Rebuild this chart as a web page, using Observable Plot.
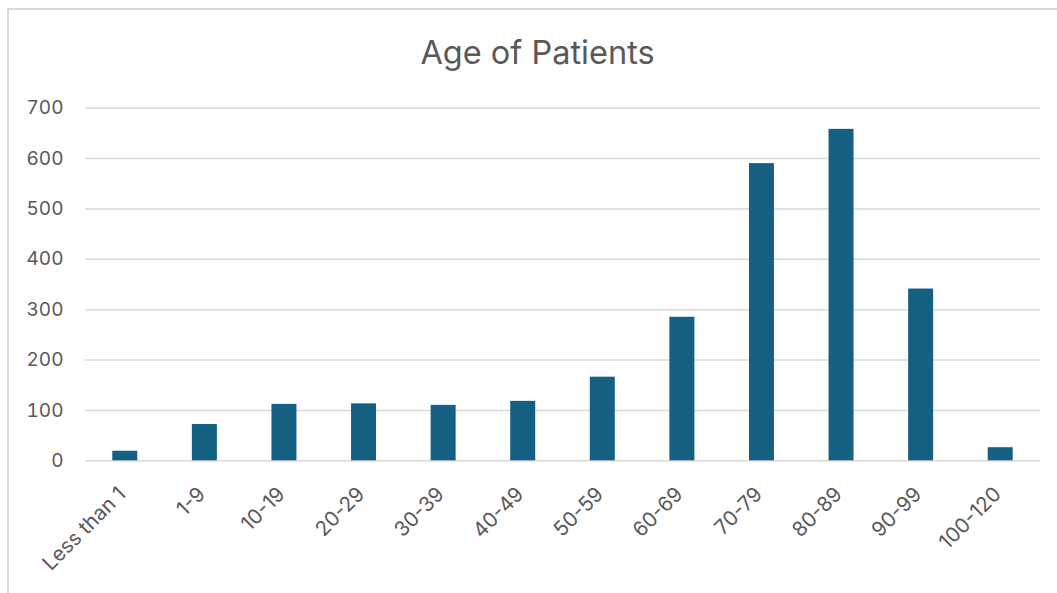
<!DOCTYPE html>
<html>
<head>
<meta charset="utf-8">
<script src="https://cdn.jsdelivr.net/npm/d3@7"></script>
<script src="https://cdn.jsdelivr.net/npm/@observablehq/plot@0.6"></script>
<style>
  html, body { margin: 0; padding: 0; background: #fff; width: 1057px; height: 593px; overflow: hidden; }
  #wrap { position: relative; width: 1057px; height: 593px; overflow: hidden; font-family: Inter, "Noto Sans", sans-serif; }
  #frame { position: absolute; left: 7px; top: 8px; width: 1200px; height: 800px; border-top: 2px solid #d9d9d9; border-left: 2px solid #d9d9d9; box-sizing: border-box; }
  #title { position: absolute; left: 7px; width: 1061px; top: 0; height: 90px; line-height: 106px; text-align: center; font-size: 32.5px; color: #595959; }
  #chart { position: absolute; left: 0; top: 90px; }
</style>
</head>
<body>
<div id="wrap">
  <div id="frame"></div>
  <div id="title">Age of Patients</div>
  <div id="chart"></div>
</div>
<script>
const categories = ["Less than 1", "1-9", "10-19", "20-29", "30-39", "40-49", "50-59", "60-69", "70-79", "80-89", "90-99", "100-120"];
const patients = [19, 72, 112, 113, 110, 118, 166, 285, 590, 658, 341, 26];
const yTicks = [0, 100, 200, 300, 400, 500, 600, 700];

const data = categories.map((c, i) => ({category: c, value: patients[i]}));

const chart = Plot.plot({
  width: 1057,
  height: 503,
  marginLeft: 85,
  marginRight: 17,
  marginTop: 17.7,
  marginBottom: 132.7,
  style: {fontFamily: "Inter, 'Noto Sans', sans-serif", fontSize: "19px", color: "#595959", background: "transparent"},
  x: {domain: categories, padding: 0.686, paddingOuter: 0.343, round: false, label: null},
  y: {domain: [0, 700], ticks: yTicks, label: null},
  marks: [
    Plot.gridY(yTicks, {stroke: "#d9d9d9", strokeOpacity: 1, strokeWidth: 1.5}),
    Plot.barY(data, {x: "category", y: "value", fill: "#156082"}),
    Plot.axisY(yTicks, {tickSize: 0, tickPadding: 22, fontSize: 19, fill: "#595959", label: null}),
    Plot.axisX({tickSize: 0, tickPadding: 30, dx: -3, tickRotate: -45, fontSize: 20.5, fill: "#595959", label: null})
  ]
});
document.getElementById("chart").appendChild(chart);
</script>
</body>
</html>
